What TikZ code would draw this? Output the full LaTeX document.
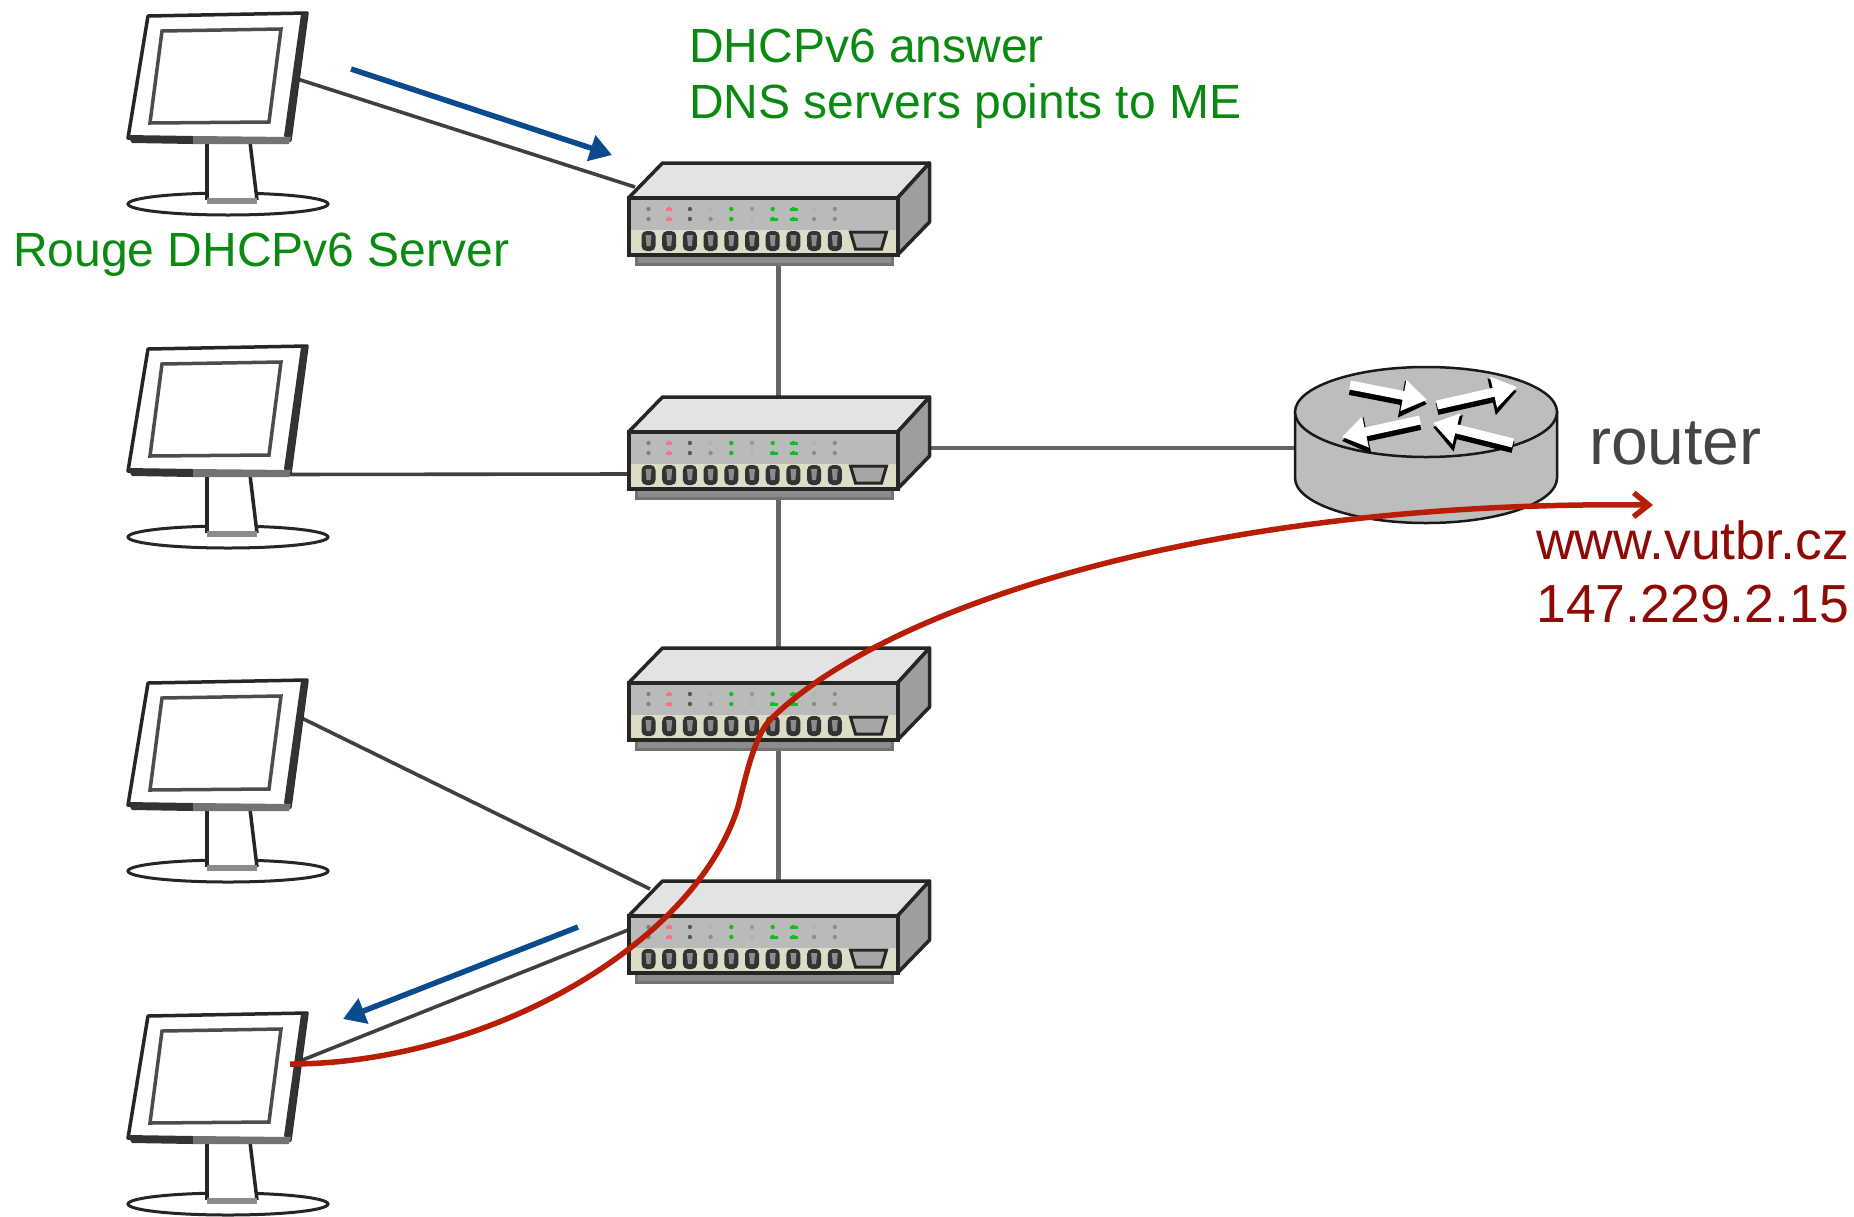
\documentclass[tikz,border=0pt]{standalone}
\usepackage{fontspec}
\setmainfont{Liberation Sans}
\usetikzlibrary{arrows.meta}

\definecolor{greentext}{HTML}{0B8A12}
\definecolor{redtext}{HTML}{8E0B05}
\definecolor{redpath}{HTML}{B81E06}
\definecolor{bluepath}{HTML}{0B4A8C}
\definecolor{routertext}{HTML}{454545}
\definecolor{cream}{HTML}{DDDCC6}
\definecolor{ledgreen}{HTML}{10C020}
\definecolor{ledred}{HTML}{FF7080}

\tikzset{
  devbox/.style  = {inner sep=0pt, outer sep=0pt},
  wire/.style    = {line width=4.5pt, black!60},
  thinwire/.style= {line width=3.6pt, black!75},
  bluearrow/.style = {line width=5.5pt, bluepath, -{Triangle[length=22pt,width=26pt]}},
  redarrow/.style  = {line width=5.5pt, redpath, -{Straight Barb[length=15pt,width=24pt]}},
  greenlabel/.style= {inner sep=0pt, text=greentext, align=left},
  redlabel/.style  = {inner sep=0pt, text=redtext, align=left},
  monitor/.pic = {
    \draw [line width=3pt, black!85, fill=white] (10,128) ellipse (100 and 11);
    \fill [white] (-11,66) -- (32,66) -- (39,124) -- (-11,124) -- cycle;
    \draw [line width=3.5pt, black!85] (-11,66) -- (-11,124);
    \draw [line width=3.5pt, black!85] (32,66) -- (39,124);
    \fill [black!45] (-11,122) rectangle (39,128);
    \draw [line width=3.5pt, black!85, fill=white, line join=round]
      (-70,-60) -- (89,-63) -- (72,64) -- (-90,62) -- cycle;
    \draw [line width=3.5pt, black!70, fill=white]
      (-56,-45) -- (63,-47) -- (51,46) -- (-68,47) -- cycle;
    \fill [black!80] (90,-63) -- (83,-62) -- (66,60) -- (73,66) -- cycle;
    \fill [black!80] (-91,59) -- (-25,60) -- (-25,68) -- (-86,67) -- cycle;
    \fill [black!55] (-25,60) -- (73,61) -- (71,68) -- (-25,68) -- cycle;
  },
  switchbox/.pic = {
    \draw [line width=3pt, black!55, fill=black!45] (-142,41) rectangle (114,50);
    \draw [line width=3.5pt, black!85, fill=black!11, line join=round]
      (-150,-16) -- (-116,-51) -- (151,-51) -- (119,-16) -- cycle;
    \draw [line width=3.5pt, black!85, fill=black!38, line join=round]
      (119,-16) -- (151,-51) -- (151,8) -- (119,41) -- cycle;
    \draw [line width=4pt, black!85, fill=black!27]
      (-150,-16) rectangle (119,41);
    \fill [cream] (-148,16) rectangle (117,39);
    \foreach \i in {0,...,9} {
      \fill [black!80, rounded corners=5pt]
        ({-137+20.7*\i},17) rectangle ({-123+20.7*\i},37);
      \fill [black!45] ({-133+20.7*\i},21) -- ({-127+20.7*\i},21)
        -- ({-128+20.7*\i},32) -- ({-132+20.7*\i},32) -- cycle;
    }
    \draw [line width=3pt, black!85, fill=black!35]
      (72,18) -- (108,18) -- (103,35) -- (77,35) -- cycle;
    % les diodes
    \foreach \i/\c in {0/black!50,1/ledred,2/black!65,3/black!30,4/ledgreen,
                       5/black!40,6/ledgreen,7/ledgreen,8/black!30,9/black!45}
      \fill [\c] ({-130+20.7*\i},-5) circle (2.2);
    \foreach \i/\c in {0/black!50,1/ledred,2/black!65,3/black!45,4/ledgreen,
                       5/black!30,6/ledgreen,7/ledgreen,8/black!45,9/black!45}
      \fill [\c] ({-130+20.7*\i},5) circle (2.2);
    \fill [ledred] (-112.5,-6.5) rectangle (-106.5,-3.5);
    \fill [ledred] (-112.5,3.5) rectangle (-106.5,6.5);
    \fill [ledgreen] (11,-6.5) rectangle (19,-3.5);
    \fill [ledgreen] (-9,3.5) rectangle (-1,6.5);
    \fill [ledgreen] (11,3.5) rectangle (19,6.5);
  },
  routerbox/.pic = {
    \draw [line width=2.5pt, black!90, fill=black!26]
      (-131,-33) -- (-131,33) arc (180:0:131 and 45) -- (131,-33) -- cycle;
    \draw [line width=2.5pt, black!90, fill=black!26] (0,-33) ellipse (131 and 45);
    \foreach \xa/\ya/\xb/\yb in {-76/-60/1/-45, 11/-40/91/-58, -6/-25/-84/-8, 87/-2/7/-22} {
      \draw [line width=12pt, black, -{Triangle[length=26pt,width=36pt]}]
        ({\xa},{\ya+4}) -- ({\xb},{\yb+4});
      \draw [line width=9pt, white, -{Triangle[length=24pt,width=30pt]}]
        (\xa,\ya) -- (\xb,\yb);
    }
  },
}

\begin{document}
\begin{tikzpicture}[x=1pt,y=-1pt]
\useasboundingbox (0,0) rectangle (1854,1216);

% les boites
\foreach \n/\y in {1/76,2/409,3/743,4/1076}
  \node [devbox, minimum width=179pt, minimum height=127pt] (mon\n) at (218,\y) {};
\foreach \n/\y in {1/214,2/448,3/699,4/932}
  \node [devbox, minimum width=301pt, minimum height=102pt] (sw\n) at (778.5,\y) {};
\node [devbox, minimum width=263pt, minimum height=156pt] (rt) at (1426,445) {};

% les liaisons
\draw [wire] (sw1.south) -- (sw2.north);
\draw [wire] (sw2.south) -- (sw3.north);
\draw [wire] (sw3.south) -- (sw4.north);
\draw [wire] (sw2.east) -- (sw2.east -| rt.west);
\draw [thinwire] ([xshift=-10pt, yshift=-3pt]mon1.east) -- ([xshift=7pt, yshift=27pt]sw1.west);
\draw [thinwire] ([xshift=-30pt, yshift=-2pt]mon2.south east) -- ([yshift=-26pt]sw2.west);
\draw [thinwire] ([xshift=-10pt, yshift=27pt]mon3.east) -- ([xshift=22pt, yshift=43pt]sw4.west);
\draw [thinwire] ([xshift=-10pt, yshift=14pt]mon4.east) -- ([yshift=2pt]sw4.west);

% les appareils
\foreach \n in {1,2,3,4} {
  \pic at (mon\n) {monitor};
  \pic at (sw\n) {switchbox};
}
\pic at (rt) {routerbox};

% les textes
\node [greenlabel, anchor=north west, font=\fontsize{48}{56}\selectfont] (answer) at (689,29)
  {DHCPv6 answer\\DNS servers points to ME};
\node [greenlabel, anchor=base west, font=\fontsize{48}{56}\selectfont] (rouge) at (13,266)
  {Rouge DHCPv6 Server};
\node [inner sep=0pt, text=routertext, anchor=base west, font=\fontsize{66}{70}\selectfont] (rtname) at (1589,464)
  {router};
\node [redlabel, anchor=north west, font=\fontsize{53.6}{63}\selectfont] (target) at (1536,520)
  {www.vutbr.cz\\147.229.2.15};

% les fleches
\coordinate (blueA) at (351,69);
\coordinate (blueB) at (612,155);
\coordinate (blueC) at (578,927);
\coordinate (blueD) at (343,1019);
\coordinate (redA) at (290,1064);
\coordinate (redB) at (1653,505);
\draw [bluearrow] (blueA) -- (blueB);
\draw [bluearrow] (blueC) -- (blueD);
\draw [redarrow] (redA) .. controls (480,1064) and (690,950) .. (737,810)
  .. controls (742,795) and (752,738) .. (770,720)
  .. controls (880,610) and (1200,500) .. (redB);

\end{tikzpicture}
\end{document}
